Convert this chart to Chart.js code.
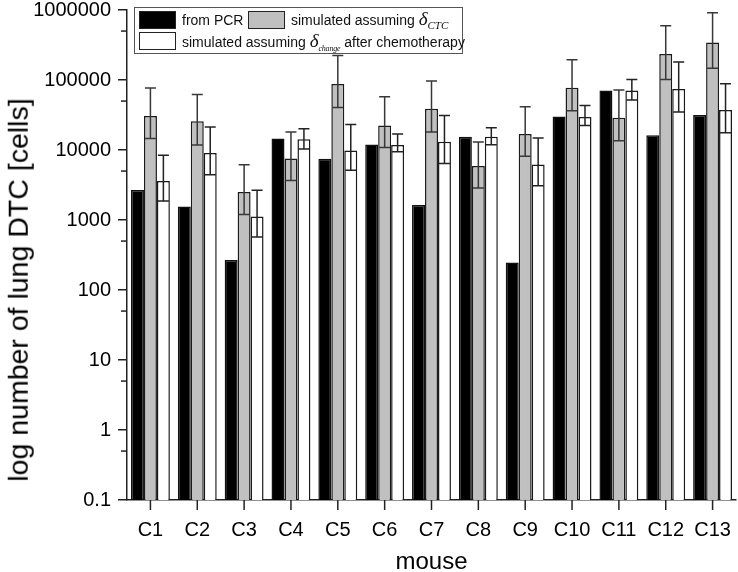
<!DOCTYPE html>
<html>
<head>
<meta charset="utf-8">
<script src="https://cdn.jsdelivr.net/npm/chart.js@4/dist/chart.umd.min.js"></script>
<style>
  html, body { margin: 0; padding: 0; background: #fff; }
  #wrap { position: relative; width: 738px; height: 572px; }
  #legend { position: absolute; left: 134px; top: 7px; width: 329px; height: 47px;
    border: 1px solid #555; background: #fff; font-family: 'Liberation Sans', Arial, sans-serif;
    font-size: 14px; color: #111; box-sizing: border-box; }
  .sw { position: absolute; width: 37px; height: 18px; box-sizing: border-box; border: 1.5px solid #222; }
  .lt { position: absolute; white-space: nowrap; line-height: 18px; }
  .d { font-family: 'Liberation Serif', 'Times New Roman', serif; font-style: italic; font-size: 19px; }
  .sub { font-family: 'Liberation Serif', 'Times New Roman', serif; font-style: italic; font-size: 11px; position: relative; top: 4px; }
  .sub2 { font-family: 'Liberation Serif', 'Times New Roman', serif; font-style: italic; font-size: 8px; position: relative; top: 4px; letter-spacing: -0.2px; }
  #ytitle { position: absolute; left: 18px; top: 290px; transform: translate(-50%, -50%) rotate(-90deg);
    font-family: 'Liberation Sans', Arial, sans-serif; font-size: 28.5px; white-space: nowrap; color: #000; line-height: 1; }
</style>
</head>
<body>
<div id="wrap">
  <canvas id="c" width="738" height="572"></canvas>
  <div id="ytitle">log number of lung DTC [cells]</div>
  <div id="legend">
    <div class="sw" style="left:4px;top:3px;background:#000;"></div>
    <div class="lt" style="left:47px;top:3px;">from PCR</div>
    <div class="sw" style="left:113px;top:3px;background:#c0c0c0;"></div>
    <div class="lt" style="left:156px;top:2px;">simulated assuming <span class="d">δ</span><span class="sub">CTC</span></div>
    <div class="sw" style="left:4px;top:24px;background:#fff;"></div>
    <div class="lt" style="left:47px;top:24px;">simulated assuming <span class="d">δ</span><span class="sub2">change</span> after chemotherapy</div>
  </div>
</div>
<script>
const categories = ['C1','C2','C3','C4','C5','C6','C7','C8','C9','C10','C11','C12','C13'];
const pcr     = [2690, 1560, 268, 14650, 7520, 12000, 1640, 15500, 248, 30200, 71000, 16200, 31600];
const ctc     = [30600, 25700, 2510, 7590, 87700, 22400, 38900, 5900, 16900, 77600, 28900, 235000, 344000];
const ctcHigh = [76900, 62200, 6170, 18100, 224000, 57700, 96800, 13000, 41600, 195000, 71900, 597000, 915000];
const ctcLow  = [14650, 11800, 1200, 3680, 40600, 10900, 18100, 2860, 8110, 36400, 13600, 102000, 146600];
const chg     = [3610, 9060, 1125, 14200, 9860, 11800, 13150, 15500, 6230, 29600, 71000, 74300, 37300];
const chgHigh = [8380, 21300, 2650, 20100, 23200, 16900, 31200, 20800, 14800, 43300, 102000, 180700, 88500];
const chgLow  = [1870, 4440, 571, 10300, 5120, 9460, 6440, 11900, 3090, 22400, 51800, 34900, 17650];
const majorTicks = [0.1, 1, 10, 100, 1000, 10000, 100000, 1000000];
const minorTicks = [0.5, 5, 50, 500, 5000, 50000, 500000];

const errorBars = {
  id: 'errorBars',
  afterDatasetsDraw(chart) {
    const ctx = chart.ctx;
    const ys = chart.scales.y;
    chart.data.datasets.forEach((ds, i) => {
      if (!ds.errHigh) return;
      const meta = chart.getDatasetMeta(i);
      ctx.save();
      ctx.strokeStyle = ds.errColor;
      ctx.lineWidth = 1.5;
      meta.data.forEach((el, j) => {
        const x = el.x;
        const yh = ys.getPixelForValue(ds.errHigh[j]);
        const yl = ys.getPixelForValue(ds.errLow[j]);
        const hw = 5.5;
        ctx.beginPath();
        ctx.moveTo(x, yh); ctx.lineTo(x, yl);
        ctx.moveTo(x - hw, yh); ctx.lineTo(x + hw, yh);
        ctx.moveTo(x - hw, yl); ctx.lineTo(x + hw, yl);
        ctx.stroke();
      });
      ctx.restore();
    });
  },
  afterDraw(chart) {
    const ctx = chart.ctx;
    const ys = chart.scales.y;
    const xs = chart.scales.x;
    const left = chart.chartArea.left;
    const bottom = chart.chartArea.bottom;
    ctx.save();
    ctx.strokeStyle = '#222';
    ctx.lineWidth = 1.5;
    minorTicks.forEach(v => {
      const y = ys.getPixelForValue(v);
      ctx.beginPath();
      ctx.moveTo(left - 6, y); ctx.lineTo(left, y);
      ctx.stroke();
    });
    categories.forEach((c, i) => {
      const x = xs.getPixelForValue(i);
      ctx.beginPath();
      ctx.moveTo(x, bottom); ctx.lineTo(x, bottom + 10);
      ctx.stroke();
    });
    ctx.restore();
  }
};

Chart.defaults.font.family = "'Liberation Sans', Arial, sans-serif";
Chart.defaults.color = '#000';

new Chart(document.getElementById('c'), {
  type: 'bar',
  data: {
    labels: categories,
    datasets: [
      { label: 'from PCR', data: pcr, backgroundColor: '#000', borderColor: '#111', borderWidth: 1.5 },
      { label: 'simulated assuming δCTC', data: ctc, backgroundColor: '#c0c0c0', borderColor: '#1a1a1a', borderWidth: 1.5,
        errHigh: ctcHigh, errLow: ctcLow, errColor: '#383838' },
      { label: 'simulated assuming δchange after chemotherapy', data: chg, backgroundColor: '#fff', borderColor: '#1a1a1a', borderWidth: 1.5,
        errHigh: chgHigh, errLow: chgLow, errColor: '#222' }
    ]
  },
  options: {
    responsive: false,
    animation: false,
    devicePixelRatio: 1,
    layout: { padding: { top: 10, right: 2, left: 0, bottom: 0 } },
    datasets: { bar: { barPercentage: 1.0, categoryPercentage: 0.83 } },
    plugins: { legend: { display: false }, tooltip: { enabled: false } },
    scales: {
      x: {
        grid: { drawOnChartArea: false, drawTicks: false, color: '#222', lineWidth: 1.5 },
        border: { display: true, color: '#222', width: 1.5 },
        ticks: { font: { size: 20 }, padding: 18, color: '#000' },
        title: { display: true, text: 'mouse', font: { size: 24, lineHeight: 1 }, color: '#000', padding: { top: 0, bottom: -2 } },
        afterFit(s) { s.height = 72; s.paddingLeft = 0; s.paddingRight = 0; }
      },
      y: {
        type: 'logarithmic',
        min: 0.1, max: 1000000,
        afterBuildTicks(s) { s.ticks = majorTicks.map(v => ({ value: v })); },
        grid: { drawOnChartArea: false, drawTicks: true, tickLength: 9, color: '#222', lineWidth: 1.5 },
        border: { display: true, color: '#222', width: 1.5 },
        ticks: { font: { size: 20 }, padding: 7, color: '#000', autoSkip: false,
          callback: (v) => majorTicks.includes(v) ? String(v) : '' },
        title: { display: false },
        afterFit(s) { s.width = 127; s.paddingTop = 0; s.paddingBottom = 0; }
      }
    }
  },
  plugins: [errorBars]
});
</script>
</body>
</html>
